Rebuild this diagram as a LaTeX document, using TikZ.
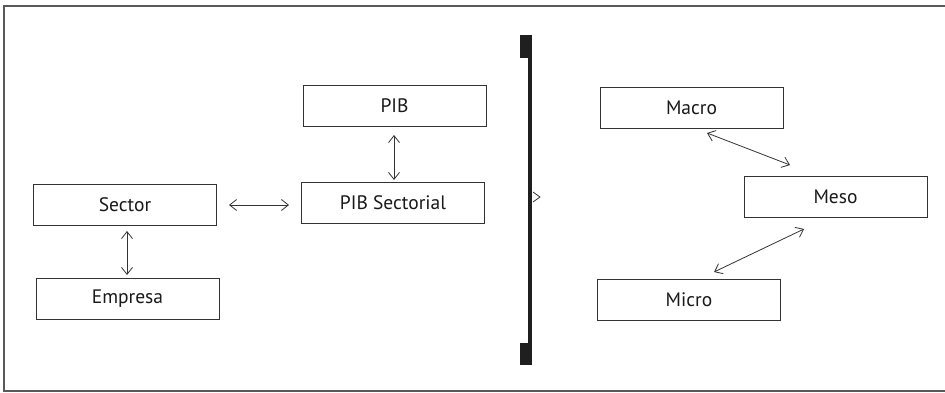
\documentclass[tikz,border=0pt]{standalone}
\usepackage{fontspec}
\setmainfont{PT Sans}
\usetikzlibrary{arrows.meta}
\begin{document}
\begin{tikzpicture}[x=1pt,y=-1pt,
  box/.style={draw=black!80,line width=0.9pt,fill=white,minimum width=183pt,minimum height=41pt,inner sep=0pt,font=\fontsize{19.5}{22}\selectfont,text=black!90},
  link/.style={draw=black!80,line width=0.8pt,{Straight Barb[length=7pt,width=11pt,line width=0.8pt]}-{Straight Barb[length=7pt,width=11pt,line width=0.8pt]}}]
\useasboundingbox (0,0) rectangle (945,393);
\draw[black!65,line width=1.5pt] (945,6) -- (4,6) -- (4,391) -- (945,391);
% boxes
\node[box] (pib) at (394.5,105.5) {PIB};
\node[box] (pibs) at (393,202.5) {PIB Sectorial};
\node[box] (sector) at (125,204.5) {Sector};
\node[box] (empresa) at (127.5,298.5) {Empresa};
\node[box] (macro) at (691.5,107.5) {Macro};
\node[box] (meso) at (835.5,197) {Meso};
\node[box] (micro) at (689,299.5) {Micro};
% arrows
\coordinate (a1) at (394,135); \coordinate (a2) at (394,180);
\draw[link] (a1) -- (a2);
\coordinate (b1) at (127,231); \coordinate (b2) at (127,275);
\draw[link] (b1) -- (b2);
\coordinate (c1) at (229,205); \coordinate (c2) at (289,205);
\draw[link] (c1) -- (c2);
\coordinate (d1) at (707,133); \coordinate (d2) at (790,165);
\draw[link] (d1) -- (d2);
\coordinate (e1) at (804,229); \coordinate (e2) at (714,272);
\draw[link] (e1) -- (e2);
% divider bar
\fill[black!88] (520,35) rectangle (532,58);
\fill[black!88] (520,343) rectangle (532,365);
\fill[black!88] (527.5,35) rectangle (532,365);
\coordinate (g1) at (533,192); \coordinate (g2) at (540,197); \coordinate (g3) at (533,202);
\draw[black!80,line width=0.8pt] (g1) -- (g2) -- (g3);
\end{tikzpicture}
\end{document}
